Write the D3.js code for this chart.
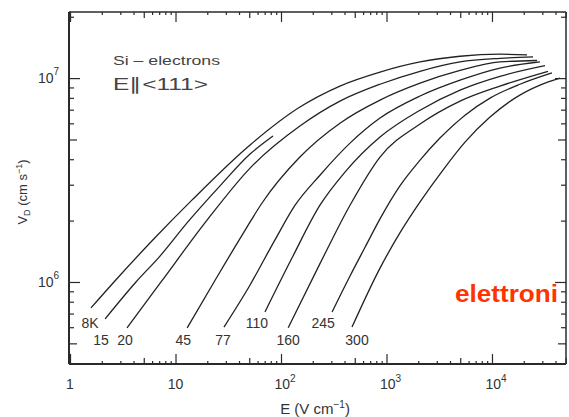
<!DOCTYPE html>
<html><head><meta charset="utf-8">
<script src="https://cdn.jsdelivr.net/npm/d3@7"></script>
<style>body{margin:0;background:#fff}svg{display:block}text{font-family:"Liberation Sans",Arial,sans-serif}</style>
</head><body><svg id="c" width="569" height="417"></svg>
<script>
// ---- data (E in V/cm, drift velocity in cm/s) ----
const curveLabels = ["8K","15","20","45","77","110","160","245","300"];
const c8   = [[1.58,7.46e5],[2.61,1.0e6],[6.12,1.61e6],[14.3,2.52e6],[50.9,4.70e6],[151,7.21e6],[362,9.14e6],[868,1.07e7],[2080,1.20e7],[4980,1.28e7],[11900,1.31e7],[21500,1.30e7]];
const c15  = [[2.15,6.59e5],[4.22,1.0e6],[7.13,1.34e6],[13.1,1.97e6],[26.4,2.96e6],[50.9,4.24e6],[84,5.20e6]];
const c20  = [[3.47,5.96e5],[7.29,1.0e6],[19.9,2.01e6],[50.9,3.62e6],[151,5.82e6],[362,7.71e6],[868,9.33e6],[2080,1.08e7],[4980,1.20e7],[11900,1.25e7],[24500,1.27e7]];
const c45  = [[12.9,5.96e5],[23.2,1.0e6],[47.6,1.86e6],[66.1,2.44e6],[151,4.10e6],[362,6.01e6],[868,7.80e6],[2080,9.44e6],[4980,1.09e7],[11900,1.20e7],[26700,1.22e7]];
const c77  = [[28.8,6.01e5],[50.9,9.67e5],[87.7,1.61e6],[136,2.38e6],[234,3.34e6],[451,4.80e6],[868,6.37e6],[2080,8.17e6],[4980,9.77e6],[11900,1.12e7],[28500,1.20e7]];
const c110 = [[70.5,7.13e5],[127,1.31e6],[234,2.38e6],[404,3.46e6],[868,5.14e6],[2080,6.96e6],[4980,8.73e6],[11900,1.02e7],[31800,1.15e7]];
const c160 = [[117,5.96e5],[234,1.23e6],[451,2.38e6],[868,4.10e6],[2080,5.95e6],[4980,7.71e6],[11900,9.14e6],[34000,1.08e7]];
const c245 = [[305,7.13e5],[451,1.07e6],[626,1.48e6],[868,2.04e6],[1340,2.96e6],[2080,3.96e6],[3210,5.08e6],[5550,6.58e6],[9580,7.98e6],[18400,9.33e6],[37000,1.06e7]];
const c300 = [[471,6.01e5],[868,1.17e6],[1340,1.74e6],[2080,2.47e6],[3430,3.54e6],[5550,4.85e6],[9580,6.44e6],[16500,7.98e6],[28500,9.24e6],[44100,1.0e7]];
const curves = [c8,c15,c20,c45,c77,c110,c160,c245,c300];

const xTickValues = [1,10,100,1000,10000];
const xTickLabels = [["1",""],["10",""],["10","2"],["10","3"],["10","4"]];
const yTickValues = [1e6,1e7];
const yTickLabels = [["10","6"],["10","7"]];

// ---- layout ----
const svg = d3.select("#c");
const L=69, R=566, T=12, B=364;
const x = d3.scaleLog().domain([0.978,50300]).range([L,R]);
const y = d3.scaleLog().domain([3.96e5,2.11e7]).range([B,T]);
const ink = "#2a2a2a";

const xMinor=[], xMid=[];
for (let d=1; d<=10000; d*=10) for (let k=2;k<=9;k++){ const v=d*k; if (v<50300) (k===5?xMid:xMinor).push(v); }
const yMinor=[], yMid=[];
for (let d=1e5; d<=1e7; d*=10) for (let k=2;k<=9;k++){ const v=d*k; if (v>3.96e5 && v<2.11e7) (k===5?yMid:yMinor).push(v); }

function styleAxis(g){ g.select(".domain").remove(); g.selectAll("line").attr("stroke",ink).attr("stroke-width",1.2); g.selectAll("text").remove(); }

[[xTickValues,10],[xMid,6],[xMinor,3]].forEach(([vals,len])=>{
  svg.append("g").attr("transform",`translate(0,${B})`).call(d3.axisBottom(x).tickValues(vals).tickSize(-len)).call(styleAxis);
  svg.append("g").attr("transform",`translate(0,${T})`).call(d3.axisTop(x).tickValues(vals).tickSize(-len)).call(styleAxis);
});
[[yTickValues,11],[yMid,8],[yMinor,5]].forEach(([vals,len])=>{
  svg.append("g").attr("transform",`translate(${L},0)`).call(d3.axisLeft(y).tickValues(vals).tickSize(-len)).call(styleAxis);
  svg.append("g").attr("transform",`translate(${R},0)`).call(d3.axisRight(y).tickValues(vals).tickSize(-len)).call(styleAxis);
});

// frame
svg.append("line").attr("x1",L).attr("x2",L).attr("y1",T).attr("y2",B).attr("stroke",ink).attr("stroke-width",2);
svg.append("line").attr("x1",L).attr("x2",R).attr("y1",B).attr("y2",B).attr("stroke",ink).attr("stroke-width",2);
svg.append("line").attr("x1",L).attr("x2",R).attr("y1",T).attr("y2",T).attr("stroke",ink).attr("stroke-width",1.5);
svg.append("line").attr("x1",R).attr("x2",R).attr("y1",T).attr("y2",B).attr("stroke",ink).attr("stroke-width",1.5);

// tick labels
xTickValues.forEach((v,i)=>{
  const t = svg.append("text").attr("x",x(v)+(xTickLabels[i][1]?4:0)).attr("y",389).attr("text-anchor","middle").attr("font-size",14).attr("fill","#333");
  t.append("tspan").text(xTickLabels[i][0]);
  if (xTickLabels[i][1]) t.append("tspan").attr("dy",-7).attr("font-size",10).text(xTickLabels[i][1]);
});
yTickValues.forEach((v,i)=>{
  const t = svg.append("text").attr("x",38).attr("y",y(v)+5).attr("font-size",14).attr("fill","#333");
  t.append("tspan").text(yTickLabels[i][0]);
  t.append("tspan").attr("dy",-8).attr("font-size",10).text(yTickLabels[i][1]);
});

// axis titles
const xt = svg.append("text").attr("x",315).attr("y",414).attr("text-anchor","middle").attr("font-size",15).attr("fill","#333");
xt.append("tspan").text("E (V cm");
xt.append("tspan").attr("dy",-6).attr("font-size",10).text("−1");
xt.append("tspan").attr("dy",6).text(")");
const yt = svg.append("text").attr("transform","translate(27,192) rotate(-90)").attr("text-anchor","middle").attr("font-size",13).attr("fill","#333");
yt.append("tspan").text("V");
yt.append("tspan").attr("dy",3).attr("font-size",9).text("D");
yt.append("tspan").attr("dy",-3).text(" (cm s");
yt.append("tspan").attr("dy",-5).attr("font-size",9).text("−1");
yt.append("tspan").attr("dy",5).text(")");

// inset text
svg.append("text").attr("x",113).attr("y",65).attr("font-size",13).attr("fill","#444")
  .attr("textLength",107).attr("lengthAdjust","spacingAndGlyphs").text("Si – electrons");
svg.append("text").attr("x",113).attr("y",90).attr("font-size",17).attr("fill","#444")
  .attr("textLength",95).attr("lengthAdjust","spacingAndGlyphs").text("E∥<111>");

// curves
const line = d3.line().x(d=>x(d[0])).y(d=>y(d[1])).curve(d3.curveMonotoneX);
svg.append("g").selectAll("path").data(curves).join("path")
  .attr("d",line).attr("fill","none").attr("stroke","#222").attr("stroke-width",1.3);

// curve labels, placed below each curve's low-field end
const labelOffsets = [[-1,20],[-4,26],[-2,17],[-4,17],[-1,18],[-8,16],[0,17],[-9,16],[5,18]];
curves.forEach((c,i)=>{
  svg.append("text").attr("x",x(c[0][0])+labelOffsets[i][0]).attr("y",y(c[0][1])+labelOffsets[i][1])
    .attr("text-anchor","middle").attr("font-size",14).attr("fill","#333").text(curveLabels[i]);
});

// red annotation
svg.append("text").attr("x",455).attr("y",302).attr("font-size",23).attr("font-weight","bold")
  .attr("fill","#ff3300").attr("textLength",103).attr("lengthAdjust","spacingAndGlyphs").text("elettroni");
</script></body></html>
